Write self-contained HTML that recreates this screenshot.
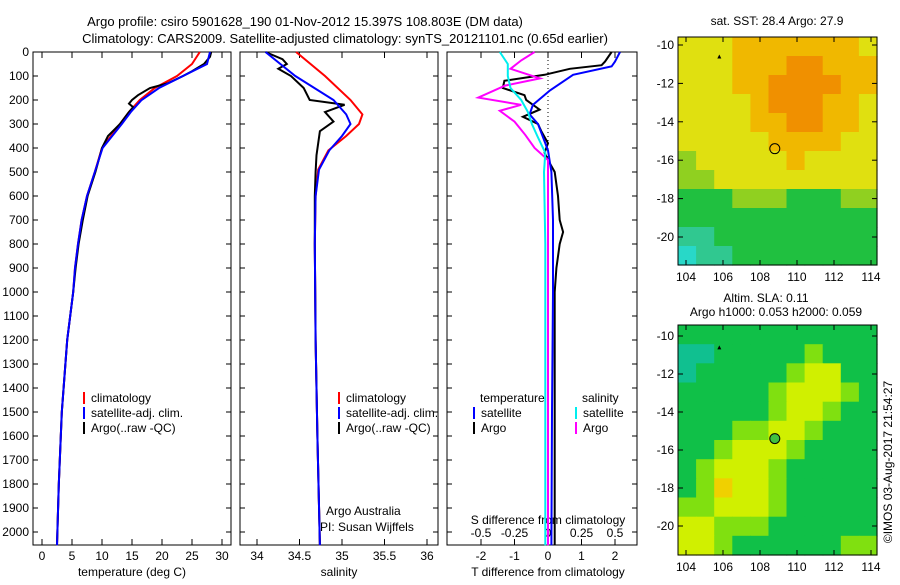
<!DOCTYPE html>
<html><head><meta charset="utf-8"><style>
body{margin:0;background:#fff;width:900px;height:580px;overflow:hidden}
svg{font-family:"Liberation Sans",sans-serif;font-size:12px}
</style></head><body>
<svg id="chart" width="900" height="580" viewBox="0 0 900 580" xmlns="http://www.w3.org/2000/svg">
<text x="305" y="26" text-anchor="middle" font-size="13">Argo profile: csiro 5901628_190 01-Nov-2012 15.397S 108.803E (DM data)</text>
<text x="345" y="43" text-anchor="middle" font-size="13">Climatology: CARS2009. Satellite-adjusted climatology: synTS_20121101.nc (0.65d earlier)</text>
<g id="g"></g>
</svg>
<script>
// ---------- data ----------
const tDepth=[0,50,100,150,200,250,300,400,500,600,700,800,900,1000,1200,1500,1800,2055];
const tClim=[26.3,25,22.5,18.8,16.3,14.5,13,10,8.8,7.5,6.6,6,5.5,5.2,4.2,3.3,2.8,2.5];
const tSat=[28,27.5,23.5,19.5,16.6,14.8,13.3,10.1,8.8,7.5,6.6,6,5.5,5.2,4.2,3.3,2.8,2.5];
const aDepth=[0,20,50,80,100,130,150,180,200,215,230,250,300,350,400,500,600,700,800,900,1000,1200,1500,1800,2055];
const aTemp=[28.2,28,27,25,23.5,21,18,16,15,14.5,15.2,14.5,13,11,10,8.9,7.6,6.8,6.1,5.6,5.2,4.2,3.3,2.8,2.5];
const sDepth=[0,100,200,260,300,350,410,490,600,800,1200,1600,2055];
const sClim=[34.46,34.8,35.1,35.24,35.2,35.05,34.84,34.72,34.69,34.68,34.69,34.71,34.74];
const sSat=[34.1,34.45,34.9,35.05,35.1,35.0,34.85,34.73,34.69,34.68,34.69,34.71,34.74];
const aSDepth=[0,30,50,70,100,150,200,220,250,290,330,380,430,500,600,800,1200,1600,2055];
const aSal=[34.1,34.3,34.35,34.25,34.4,34.55,34.62,35.03,34.8,34.9,34.74,34.72,34.7,34.69,34.68,34.68,34.69,34.71,34.74];
const dDepth=[0,40,60,95,160,220,260,300,410,500,700,1000,1500,2055];
const dTSat=[2.15,2.0,1.9,0.75,0.06,-0.45,-0.55,-0.3,0,0.1,0.15,0.15,0.12,0.1];
const dTaDepth=[0,40,55,70,95,120,150,180,200,240,270,300,330,380,420,450,500,600,700,750,800,900,1000,1500,2055];
const dTArgo=[1.9,1.7,1.6,0.65,-0.1,-1.3,-1.35,-0.7,-0.65,-0.25,-0.75,-0.3,-0.2,0,-0.1,0,0.2,0.3,0.35,0.45,0.35,0.25,0.2,0.2,0.2];
const dSDepth=[0,50,100,150,200,250,300,350,420,500,800,1200,2055];
const dSSat=[-0.36,-0.3,-0.3,-0.28,-0.2,-0.15,-0.12,-0.08,-0.02,-0.03,-0.02,-0.02,-0.02];
const dSArgo=[-0.1,-0.2,-0.28,-0.06,-0.32,-0.52,-0.2,-0.36,-0.25,-0.17,-0.1,0,0,0,0];
const dSaDepth=[0,35,70,110,140,190,220,245,290,345,400,450,800,1500,2055];
const map1Rows=["77788888887","77788899888","77788999988","77778999887","77778899887","77777888877","67777787777","66777777777","55566655566","55555555555","44555555555","34455555555"];
const map2Rows=["55555555555","44555556555","45555567755","55555677765","55555677655","55566776555","55677765555","56777655555","56877655555","66777655555","77666555555","77655555566"];
const depthTicks=[0,100,200,300,400,500,600,700,800,900,1000,1100,1200,1300,1400,1500,1600,1700,1800,1900,2000];
const tTicks=[0,5,10,15,20,25,30];
const sTicks=[34,34.5,35,35.5,36];
const dTTicks=[-2,-1,0,1,2];
const dSTicks=[-0.5,-0.25,0,0.25,0.5];
const lonTicks=[104,106,108,110,112,114];
const latTicks=[-10,-12,-14,-16,-18,-20];
// ---------- helpers ----------
const NS="http://www.w3.org/2000/svg",G=document.getElementById('g');
function mk(t,a,p){const e=document.createElementNS(NS,t);for(const k in a)e.setAttribute(k,a[k]);(p||G).appendChild(e);return e;}
const Y=d=>52+d*0.24;
const xT=v=>42+v*6, xS=v=>257+(v-34)*85, xDT=v=>548+v*33.5, xDS=v=>548+v*134;
function line(xs,ds,xf,col,name,w){const pts=xs.map((v,i)=>xf(v).toFixed(1)+','+Y(ds[i]).toFixed(1)).join(' ');
 const e=mk('polyline',{points:pts,fill:'none',stroke:col,'stroke-width':w||2});
 
 }
function box(x0,x1,name){const e=mk('rect',{x:x0,y:52,width:x1-x0,height:493,fill:'none',stroke:'#000'});
 
 }
function txt(x,y,s,anchor,name){const e=mk('text',{x:x,y:y,'text-anchor':anchor||'start'});e.textContent=s;
 
 return e;}
function xticks(x0,x1,ticks,f,fmt,top,name){ticks.forEach(v=>{const x=f(v);
 mk('line',{x1:x,x2:x,y1:545,y2:539,stroke:'#000'});mk('line',{x1:x,x2:x,y1:52,y2:58,stroke:'#000'});
 txt(x,560,fmt?fmt(v):String(v),'middle',name);});}
// panel 1
box(33,231,'temperature-panel');
depthTicks.forEach(d=>{const y=Y(d);mk('line',{x1:33,x2:38,y1:y,y2:y,stroke:'#000'});mk('line',{x1:231,x2:226,y1:y,y2:y,stroke:'#000'});txt(29,y+4,String(d),'end','depth-tick-label');});
xticks(33,231,tTicks,xT,null,false,'temperature-tick-label');
txt(132,576,'temperature (deg C)','middle','temperature-axis-title');
line(tClim,tDepth,xT,'#f00','temp-climatology-line');
line(aTemp,aDepth,xT,'#000','temp-argo-line');
line(tSat,tDepth,xT,'#00f','temp-satellite-line');
// panel 2
box(240,438,'salinity-panel');
depthTicks.forEach(d=>{const y=Y(d);mk('line',{x1:240,x2:245,y1:y,y2:y,stroke:'#000'});mk('line',{x1:438,x2:433,y1:y,y2:y,stroke:'#000'});});
xticks(240,438,sTicks,xS,null,false,'salinity-tick-label');
txt(339,576,'salinity','middle','salinity-axis-title');
line(sClim,sDepth,xS,'#f00','sal-climatology-line');
line(aSal,aSDepth,xS,'#000','sal-argo-line');
line(sSat,sDepth,xS,'#00f','sal-satellite-line');
txt(326,515,'Argo Australia','start','credit-line-1');txt(320,531,'PI: Susan Wijffels','start','credit-line-2');
// legends
function legend(x,y,items,pname){items.forEach((it,i)=>{const yy=y+i*15;mk('line',{x1:x,x2:x,y1:yy-10,y2:yy+2,stroke:it[1],'stroke-width':2});txt(x+7,yy,it[0],'start',pname);});}
legend(84,402,[['climatology','#f00'],['satellite-adj. clim.','#00f'],['Argo(..raw -QC)','#000']],'temperature-legend-entry');
legend(339,402,[['climatology','#f00'],['satellite-adj. clim.','#00f'],['Argo(..raw -QC)','#000']],'salinity-legend-entry');
// panel 3
box(447,637,'difference-panel');
depthTicks.forEach(d=>{const y=Y(d);mk('line',{x1:447,x2:452,y1:y,y2:y,stroke:'#000'});mk('line',{x1:637,x2:632,y1:y,y2:y,stroke:'#000'});});
dTTicks.forEach(v=>{const x=xDT(v);mk('line',{x1:x,x2:x,y1:545,y2:539,stroke:'#000'});txt(x,560,String(v),'middle','tdiff-tick-label');});
dSTicks.forEach(v=>{const x=xDS(v);mk('line',{x1:x,x2:x,y1:52,y2:58,stroke:'#000'});txt(x,537,String(v),'middle','sdiff-tick-label');});
txt(548,524,'S difference from climatology','middle','sdiff-axis-title');
txt(548,576,'T difference from climatology','middle','tdiff-axis-title');
mk('line',{x1:548,x2:548,y1:52,y2:545,stroke:'#000','stroke-dasharray':'1,3'});
line(dTArgo,dTaDepth,xDT,'#000','tdiff-argo-line');
line(dTSat,dDepth,xDT,'#00f','tdiff-satellite-line');
line(dSArgo,dSaDepth,xDS,'#f0f','sdiff-argo-line');
line(dSSat,dSDepth,xDS,'#0ee','sdiff-satellite-line');
txt(480,402,'temperature','start','legend-heading-temperature');txt(582,402,'salinity','start','legend-heading-salinity');
legend(474,417,[['satellite','#00f'],['Argo','#000']],'tdiff-legend-entry');
legend(576,417,[['satellite','#0ee'],['Argo','#f0f']],'sdiff-legend-entry');
// maps
const pal={'3':'#28d8c8','4':'#30c890','5':'#20c040','6':'#90d020','7':'#e0e010','8':'#f0b800','9':'#f09000'};
const pal2={'4':'#10c090','5':'#10c048','6':'#80e010','7':'#d0f000','8':'#f0d000'};
function map(rows,y0,y1,p,name,lat0y,lat20y){
 const x0=678,x1=877,nr=rows.length,nc=rows[0].length,cw=(x1-x0)/nc,ch=(y1-y0)/nr;
 rows.forEach((r,i)=>{for(let j=0;j<nc;j++){const c=mk('rect',{x:(x0+j*cw).toFixed(1),y:(y0+i*ch).toFixed(1),width:(cw+0.6).toFixed(1),height:(ch+0.6).toFixed(1),fill:p[r[j]]});
  
  }});
 const b=mk('rect',{x:x0,y:y0,width:x1-x0,height:y1-y0,fill:'none',stroke:'#000'});
 
 
 const lx=v=>686+(v-104)*18.5, ly=v=>lat0y+(-10-v)*(lat20y-lat0y)/10;
 lonTicks.forEach(v=>{const x=lx(v);mk('line',{x1:x,x2:x,y1:y1,y2:y1-5,stroke:'#000'});mk('line',{x1:x,x2:x,y1:y0,y2:y0+5,stroke:'#000'});txt(x,y1+16,String(v),'middle','lon-tick-label');});
 latTicks.forEach(v=>{const y=ly(v);mk('line',{x1:x0,x2:x0+5,y1:y,y2:y,stroke:'#000'});mk('line',{x1:x1,x2:x1-5,y1:y,y2:y,stroke:'#000'});txt(x0-4,y+4,String(v),'end','lat-tick-label');});
 return {lx,ly};}
const m1=map(map1Rows,37,265,pal,'sst-map',45,237);
let e=mk('circle',{cx:m1.lx(108.8),cy:m1.ly(-15.4),r:5,fill:'none',stroke:'#000'});


mk('path',{d:`M${m1.lx(105.8)-2},${m1.ly(-10.6)+2}l2,-4l2,4z`,fill:'#000'});
txt(777,25,'sat. SST: 28.4  Argo: 27.9','middle','sst-map-title');
const m2=map(map2Rows,325,555,pal2,'sla-map',336,526);
e=mk('circle',{cx:m2.lx(108.8),cy:m2.ly(-15.4),r:5,fill:'#40c040',stroke:'#000'});


mk('path',{d:`M${m2.lx(105.8)-2},${m2.ly(-10.6)+2}l2,-4l2,4z`,fill:'#000'});
txt(766,302,'Altim. SLA: 0.11','middle','sla-map-title-1');
txt(776,316,'Argo h1000: 0.053 h2000: 0.059','middle','sla-map-title-2');
e=txt(0,0,'©IMOS 03-Aug-2017 21:54:27','middle','imos-timestamp');
e.setAttribute('transform','translate(892,462) rotate(-90)');
</script>
</body></html>
